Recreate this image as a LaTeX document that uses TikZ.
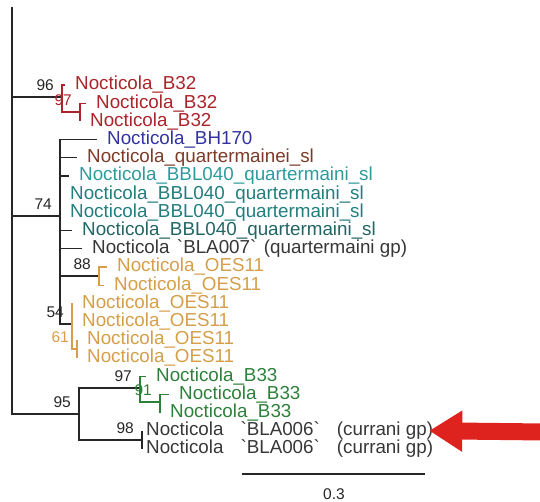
\documentclass[tikz,border=0pt]{standalone}
\usepackage{fontspec}
\usetikzlibrary{positioning,arrows.meta}

\newfontfamily\treefont[Ligatures=TeXOff]{Liberation Sans}
\newcommand{\bq}{\char"60\relax}
\newcommand{\qgap}{\hspace{7.5pt}}
\newcommand{\cgap}{\hspace{17pt}}

\definecolor{brred}{RGB}{170,36,42}
\definecolor{brblue}{RGB}{50,50,160}
\definecolor{brbrown}{RGB}{125,58,38}
\definecolor{brteal}{RGB}{45,155,155}
\definecolor{brtealdk}{RGB}{35,125,125}
\definecolor{brtealdkk}{RGB}{35,100,100}
\definecolor{brorange}{RGB}{214,158,72}
\definecolor{brgreen}{RGB}{45,128,58}
\definecolor{brgray}{RGB}{55,55,55}
\definecolor{arrowred}{RGB}{222,34,30}

\tikzset{
    branch/.style={line width=1.1pt, draw=black!85},
    leaf/.style={anchor=west, inner xsep=10pt, inner ysep=0pt, font={\treefont\fontsize{18.8pt}{18.8pt}\selectfont}},
    wideleaf/.style={leaf, inner xsep=4pt},
    support/.style={inner sep=0pt, text=black!85, font={\treefont\fontsize{15.5pt}{15.5pt}\selectfont}},
    bigarrow/.style={arrowred, line width=17pt, -{Triangle[length=33pt,width=39pt]}},
}

\begin{document}
\begin{tikzpicture}[x=1pt,y=-1pt]
    \useasboundingbox (0,0) rectangle (540,502);

    \coordinate (roott) at (12,7);
    \coordinate (cB32) at (62,97);
    \coordinate (cB32sub) at (80,112);
    \coordinate (cQuart) at (60,216);
    \coordinate (cOESa) at (99,276);
    \coordinate (cOESb) at (72,324);
    \coordinate (cOESc) at (77,349);
    \coordinate (cCurr) at (79,414);
    \coordinate (cB33) at (140,388);
    \coordinate (cB33sub) at (160,402);
    \coordinate (cBLA006) at (142,440);

    \node[leaf, text=brred] (l0) at (65,85) {Nocticola\_B32};
    \node[leaf, text=brred] (l1) at (86,103.2) {Nocticola\_B32};
    \node[leaf, text=brred] (l2) at (80,121.4) {Nocticola\_B32};
    \node[leaf, text=brblue] (l3) at (97,139.6) {Nocticola\_BH170};
    \node[leaf, text=brbrown] (l4) at (77,157.8) {Nocticola\_quartermainei\_sl};
    \node[leaf, text=brteal] (l5) at (69,176) {Nocticola\_BBL040\_quartermaini\_sl};
    \node[leaf, text=brtealdk] (l6) at (60,194.2) {Nocticola\_BBL040\_quartermaini\_sl};
    \node[leaf, text=brtealdk] (l7) at (60,212.4) {Nocticola\_BBL040\_quartermaini\_sl};
    \node[leaf, text=brtealdkk] (l8) at (72,230.6) {Nocticola\_BBL040\_quartermaini\_sl};
    \node[leaf, text=brgray] (l9) at (82,248.8) {Nocticola\qgap\bq BLA007\bq\qgap(quartermaini gp)};
    \node[leaf, text=brorange] (l10) at (107,267) {Nocticola\_OES11};
    \node[leaf, text=brorange] (l11) at (104,285.2) {Nocticola\_OES11};
    \node[leaf, text=brorange] (l12) at (72,303.4) {Nocticola\_OES11};
    \node[leaf, text=brorange] (l13) at (72,321.6) {Nocticola\_OES11};
    \node[leaf, text=brorange] (l14) at (77,339.8) {Nocticola\_OES11};
    \node[leaf, text=brorange] (l15) at (77,358) {Nocticola\_OES11};
    \node[leaf, text=brgreen] (l16) at (146,376.2) {Nocticola\_B33};
    \node[leaf, text=brgreen] (l17) at (169,394.4) {Nocticola\_B33};
    \node[leaf, text=brgreen] (l18) at (160,412.6) {Nocticola\_B33};
    \node[wideleaf, text=brgray] (l19) at (142,430.8) {Nocticola\cgap\bq BLA006\bq\cgap(currani gp)};
    \node[wideleaf, text=brgray] (l20) at (142,449) {Nocticola\cgap\bq BLA006\bq\cgap(currani gp)};

    \draw[branch] (roott) |- (cCurr);
    \draw[branch] (cB32 -| roott) -- (cB32);
    \draw[branch] (cQuart -| roott) -- (cQuart);

    \draw[branch, brred] (cB32) |- (l0.west);
    \draw[branch, brred] (cB32) |- (cB32sub);
    \draw[branch, brred] (cB32sub) |- (l1.west);
    \draw[branch, brred] (cB32sub) |- (l2.west);

    \draw[branch] (cQuart) |- (l3.west);
    \draw[branch] (cQuart) |- (l4.west);
    \draw[branch] (cQuart) |- (l5.west);
    \draw[branch] (cQuart) |- (l6.west);
    \draw[branch] (cQuart) |- (l7.west);
    \draw[branch] (cQuart) |- (l8.west);
    \draw[branch] (cQuart) |- (l9.west);
    \draw[branch] (cQuart) |- (cOESa);
    \draw[branch] (cQuart) |- (cOESb);

    \draw[branch, brorange] (cOESa) |- (l10.west);
    \draw[branch, brorange] (cOESa) |- (l11.west);
    \draw[branch, brorange] (cOESb) |- (l12.west);
    \draw[branch, brorange] (cOESb) |- (l13.west);
    \draw[branch, brorange] (cOESb) |- (cOESc);
    \draw[branch, brorange] (cOESc) |- (l14.west);
    \draw[branch, brorange] (cOESc) |- (l15.west);

    \draw[branch] (cCurr) |- (cB33);
    \draw[branch] (cCurr) |- (cBLA006);
    \draw[branch, brgreen] (cB33) |- (l16.west);
    \draw[branch, brgreen] (cB33) |- (cB33sub);
    \draw[branch, brgreen] (cB33sub) |- (l17.west);
    \draw[branch, brgreen] (cB33sub) |- (l18.west);
    \draw[branch] (cBLA006) |- (l19.west);
    \draw[branch] (cBLA006) |- (l20.west);

    \node[support, above left=6pt and 8pt of cB32] (s96) {96};
    \node[support, text=brred, above left=6pt and 8pt of cB32sub] (s97a) {97};
    \node[support, above left=6pt and 8pt of cQuart] (s74) {74};
    \node[support, above left=6pt and 8pt of cOESa] (s88) {88};
    \node[support, above left=6pt and 8pt of cOESb] (s54) {54};
    \node[support, text=brorange, above left=6pt and 8pt of cOESc] (s61) {61};
    \node[support, above left=6pt and 8pt of cCurr] (s95) {95};
    \node[support, above left=6pt and 8pt of cB33] (s97b) {97};
    \node[support, text=brgreen, above left=6pt and 8pt of cB33sub] (s91) {91};
    \node[support, above left=6pt and 8pt of cBLA006] (s98) {98};

    \coordinate (sbl) at (242,474);
    \coordinate (sbr) at (425,474);
    \draw[branch] (sbl) -- (sbr);
    \node[support] (scale) at (334,494) {0.3};

    \coordinate (arrowtail) at (545,432);
    \draw[bigarrow, shorten >=-8pt] (arrowtail) -- (l19.east);
\end{tikzpicture}
\end{document}
